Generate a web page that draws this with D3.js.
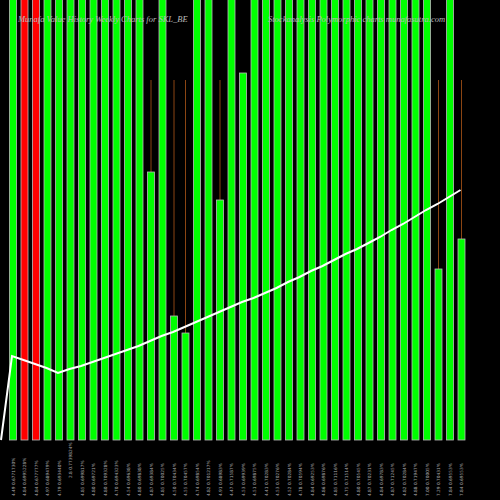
<!DOCTYPE html><html><head><script src="https://cdn.jsdelivr.net/npm/d3@7"></script>
<style>body{margin:0;background:#000}</style></head><body><svg id="c" width="500" height="500"></svg>
<script>
const categories=d3.range(40).map(i=>i);
const barTops=[500,500,500,500,500,500,500,500,500,500,500,500,268,500,124,107,500,500,240,500,367,500,500,500,500,500,500,500,500,500,500,500,500,500,500,500,500,171,500,201];
const colors=['g','r','r','g','g','g','g','g','g','g','g','g','g','g','g','g','g','g','g','g','g','g','g','g','g','g','g','g','g','g','g','g','g','g','g','g','g','g','g','g'];
const wicks={12:360,14:360,15:360,18:360,37:360,39:360};
const lineVals=[84,80,76,72,67,71,74,78,82,86,90,94,99,104,108,113,118,123,128,133,138,142,147,152,158,163,169,174,180,186,191,197,203,210,216,223,230,236,243,250];
const labels=["4.49 0.6771730%","4.84 0.6995228%","4.84 0.677777%","4.97 0.689479%","4.79 0.693440%","2.8 0.7739824%","4.85 0.699817%","4.80 0.69721%","4.80 0.709328%","4.70 0.694323%","4.54 0.69638%","4.80 0.69838%","4.87 0.69384%","4.85 0.70025%","4.50 0.70434%","4.55 0.70457%","4.74 0.69854%","4.82 0.701217%","4.91 0.68983%","4.47 0.71587%","4.53 0.69939%","4.51 0.69875%","4.41 0.70283%","4.53 0.70276%","4.52 0.70284%","4.78 0.70594%","4.84 0.69253%","4.86 0.69876%","4.85 0.71116%","4.75 0.71514%","4.80 0.70545%","4.87 0.70231%","4.84 0.69783%","4.87 0.71245%","4.82 0.70284%","4.88 0.71947%","7.00 0.70005%","7.29 0.70431%","7.84 0.69553%","7.84 0.69553%"];
const svg=d3.select('#c');
svg.append('rect').attr('width',500).attr('height',500).attr('fill','#000');
const x=d3.scaleLinear().domain([0,39]).range([13,461.5]);
const y=d3.scaleLinear().domain([0,440]).range([440,0]);
categories.forEach(i=>{ if(wicks[i]) svg.append('line').attr('x1',x(i)).attr('x2',x(i)).attr('y1',y(wicks[i])).attr('y2',y(barTops[i])).attr('stroke','#8B4513').attr('stroke-width',1);});
svg.selectAll('.b').data(categories).join('rect').attr('x',i=>x(i)-3.5).attr('width',7)
 .attr('y',i=>Math.max(-2,y(barTops[i]))).attr('height',i=>440-Math.max(-2,y(barTops[i])))
 .attr('fill',i=>colors[i]=='r'?'#ff0000':'#00ff00').attr('stroke','#bbb').attr('stroke-width',0.8);
const pts=[[1,y(0)]].concat(lineVals.map((v,i)=>[x(i)-1,y(v)]));
svg.append('path').attr('d',d3.line()(pts)).attr('fill','none').attr('stroke','#fff').attr('stroke-width',2);
svg.selectAll('.l').data(categories).join('text').attr('transform',i=>`translate(${x(i)+1.5},${i==5?478:496}) rotate(-90)`)
 .attr('fill','#aaa').attr('font-size',4.3).attr('font-family','DejaVu Sans').text(i=>labels[i]);
svg.append('text').attr('x',18).attr('y',22).attr('fill','#bbb').attr('font-size',8.5).attr('font-style','italic').attr('font-family','Liberation Serif').text('Munafa Value History Weekly Charts for SKL_BE');
svg.append('text').attr('x',268).attr('y',22).attr('fill','#bbb').attr('font-size',8.5).attr('font-style','italic').attr('font-family','Liberation Serif').text('Stockanalysis Polymorphic charts munafasutra.com');
</script></body></html>
